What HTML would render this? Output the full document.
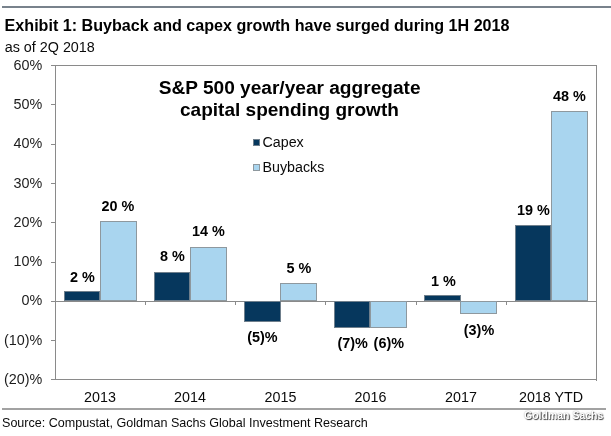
<!DOCTYPE html>
<html><head><meta charset="utf-8">
<style>
html,body{margin:0;padding:0;background:#fff;}
body{width:611px;height:436px;position:relative;overflow:hidden;font-family:"Liberation Sans",sans-serif;color:#1a1a1a;}
.a{position:absolute;white-space:nowrap;line-height:1;}
.b{font-weight:bold;}
.yl{position:absolute;right:568.8px;margin-top:0.3px;font-size:14.35px;line-height:1;color:#1c1c1c;white-space:nowrap;}
.xl{position:absolute;top:390.2px;font-size:14.3px;line-height:1;color:#0a0a0a;width:90px;text-align:center;white-space:nowrap;}
.vl{position:absolute;font-size:14.4px;font-weight:bold;line-height:1;color:#000;width:60px;text-align:center;white-space:nowrap;}
.d{position:absolute;background:#06375d;border:1px solid #6f7f8c;box-sizing:border-box;}
.l{position:absolute;background:#a9d5ef;border:1px solid #8e989e;box-sizing:border-box;}
.ln{position:absolute;background:#8a8a8a;}
#w{position:absolute;left:0;top:0;width:611px;height:436px;background:#fff;filter:blur(0.7px);}
</style></head><body><div id="w">
<div class="ln" style="left:1.8px;top:6.1px;width:610px;height:1.7px;background:#78828c"></div>
<div id="t1" class="a b" style="left:4.6px;top:17px;font-size:16.12px;color:#000">Exhibit 1: Buyback and capex growth have surged during 1H 2018</div>
<div id="t2" class="a" style="left:4.7px;top:40px;font-size:14.35px;color:#0a0a0a">as of 2Q 2018</div>

<!-- plot frame -->
<div class="ln" style="left:55px;top:65px;width:542.3px;height:1px"></div>
<div class="ln" style="left:55px;top:65px;width:1px;height:315px"></div>
<div class="ln" style="left:596.1px;top:65px;width:1px;height:315.5px"></div>
<div class="ln" style="left:55px;top:379.4px;width:542.3px;height:1px"></div>
<div class="ln" style="left:55px;top:300.5px;width:542.3px;height:1px"></div>
<!-- y ticks -->
<div class="ln" style="left:50.5px;top:65px;width:4.5px;height:1px"></div>
<div class="ln" style="left:50.5px;top:104px;width:4.5px;height:1px"></div>
<div class="ln" style="left:50.5px;top:143.5px;width:4.5px;height:1px"></div>
<div class="ln" style="left:50.5px;top:183px;width:4.5px;height:1px"></div>
<div class="ln" style="left:50.5px;top:222px;width:4.5px;height:1px"></div>
<div class="ln" style="left:50.5px;top:261.5px;width:4.5px;height:1px"></div>
<div class="ln" style="left:50.5px;top:300.5px;width:4.5px;height:1px"></div>
<div class="ln" style="left:50.5px;top:340px;width:4.5px;height:1px"></div>
<div class="ln" style="left:50.5px;top:379.4px;width:4.5px;height:1px"></div>
<!-- x ticks -->
<div class="ln" style="left:145px;top:301px;width:1px;height:4px"></div>
<div class="ln" style="left:235px;top:301px;width:1px;height:4px"></div>
<div class="ln" style="left:324.8px;top:301px;width:1px;height:4px"></div>
<div class="ln" style="left:415.5px;top:301px;width:1px;height:4px"></div>
<div class="ln" style="left:506px;top:301px;width:1px;height:4px"></div>
<!-- y labels -->
<div class="yl" style="top:58px">60%</div>
<div class="yl" style="top:97px">50%</div>
<div class="yl" style="top:136px">40%</div>
<div class="yl" style="top:176px">30%</div>
<div class="yl" style="top:215px">20%</div>
<div class="yl" style="top:254px">10%</div>
<div class="yl" style="top:293px">0%</div>
<div class="yl" style="top:333px">(10)%</div>
<div class="yl" style="top:372px">(20)%</div>
<!-- x labels -->
<div class="xl" style="left:55px">2013</div>
<div class="xl" style="left:145px">2014</div>
<div class="xl" style="left:235.5px">2015</div>
<div class="xl" style="left:325.5px">2016</div>
<div class="xl" style="left:416px">2017</div>
<div class="xl" style="left:506px">2018 YTD</div>
<!-- chart title -->
<div id="ct1" class="a b" style="left:158.7px;top:78px;font-size:19.1px;color:#000">S&amp;P 500 year/year aggregate</div>
<div id="ct2" class="a b" style="left:180px;top:99.5px;font-size:19.05px;color:#000">capital spending growth</div>
<!-- legend -->
<div class="d" style="left:253px;top:139.2px;width:7px;height:7px"></div>
<div class="a" style="left:262.5px;top:135px;font-size:14.25px;color:#0a0a0a">Capex</div>
<div class="l" style="left:253px;top:164.2px;width:7px;height:7px"></div>
<div class="a" style="left:262.5px;top:160.4px;font-size:14.25px;color:#0a0a0a">Buybacks</div>
<!-- bars -->
<div class="d" style="left:63.5px;top:291px;width:36px;height:10px"></div>
<div class="l" style="left:99.5px;top:220.5px;width:37px;height:80.5px"></div>
<div class="d" style="left:154px;top:271.5px;width:36px;height:29.5px"></div>
<div class="l" style="left:190px;top:246.5px;width:37px;height:54.5px"></div>
<div class="d" style="left:244px;top:301px;width:36.6px;height:20.7px"></div>
<div class="l" style="left:280px;top:283px;width:37px;height:18px"></div>
<div class="d" style="left:334px;top:301px;width:36.4px;height:26.7px"></div>
<div class="l" style="left:370.2px;top:301px;width:37px;height:26.7px"></div>
<div class="d" style="left:424.2px;top:295px;width:36.5px;height:6px"></div>
<div class="l" style="left:460.2px;top:301px;width:37px;height:13px"></div>
<div class="d" style="left:515px;top:225px;width:36px;height:76px"></div>
<div class="l" style="left:551px;top:110.6px;width:37px;height:190.4px"></div>
<!-- value labels -->
<div class="vl" style="left:52.3px;top:269.5px">2 %</div>
<div class="vl" style="left:87.8px;top:199.3px">20 %</div>
<div class="vl" style="left:142.3px;top:249px">8 %</div>
<div class="vl" style="left:178.3px;top:224.3px">14 %</div>
<div class="vl" style="left:232.4px;top:329.7px">(5)%</div>
<div class="vl" style="left:269px;top:261px">5 %</div>
<div class="vl" style="left:322.7px;top:336px">(7)%</div>
<div class="vl" style="left:358.8px;top:336px">(6)%</div>
<div class="vl" style="left:413.4px;top:274.3px">1 %</div>
<div class="vl" style="left:449px;top:322.5px">(3)%</div>
<div class="vl" style="left:503.5px;top:203.3px">19 %</div>
<div class="vl" style="left:539.3px;top:88.7px">48 %</div>
<!-- footer -->
<div class="ln" style="left:2px;top:408.3px;width:603.5px;height:1.3px;background:#a2a2a2"></div>
<div id="src" class="a" style="left:1.6px;top:415.5px;font-size:13px;transform:scaleX(0.966);transform-origin:0 0;color:#0a0a0a">Source: Compustat, Goldman Sachs Global Investment Research</div>
<div id="gs" class="a b" style="left:524.3px;top:409.4px;font-size:11.6px;color:#fff;text-shadow:1px 1px 1px rgba(0,0,0,0.78),0 0 1.5px rgba(0,0,0,0.4);transform:scaleX(0.905);transform-origin:0 0">Goldman Sachs</div>
</div></body></html>
